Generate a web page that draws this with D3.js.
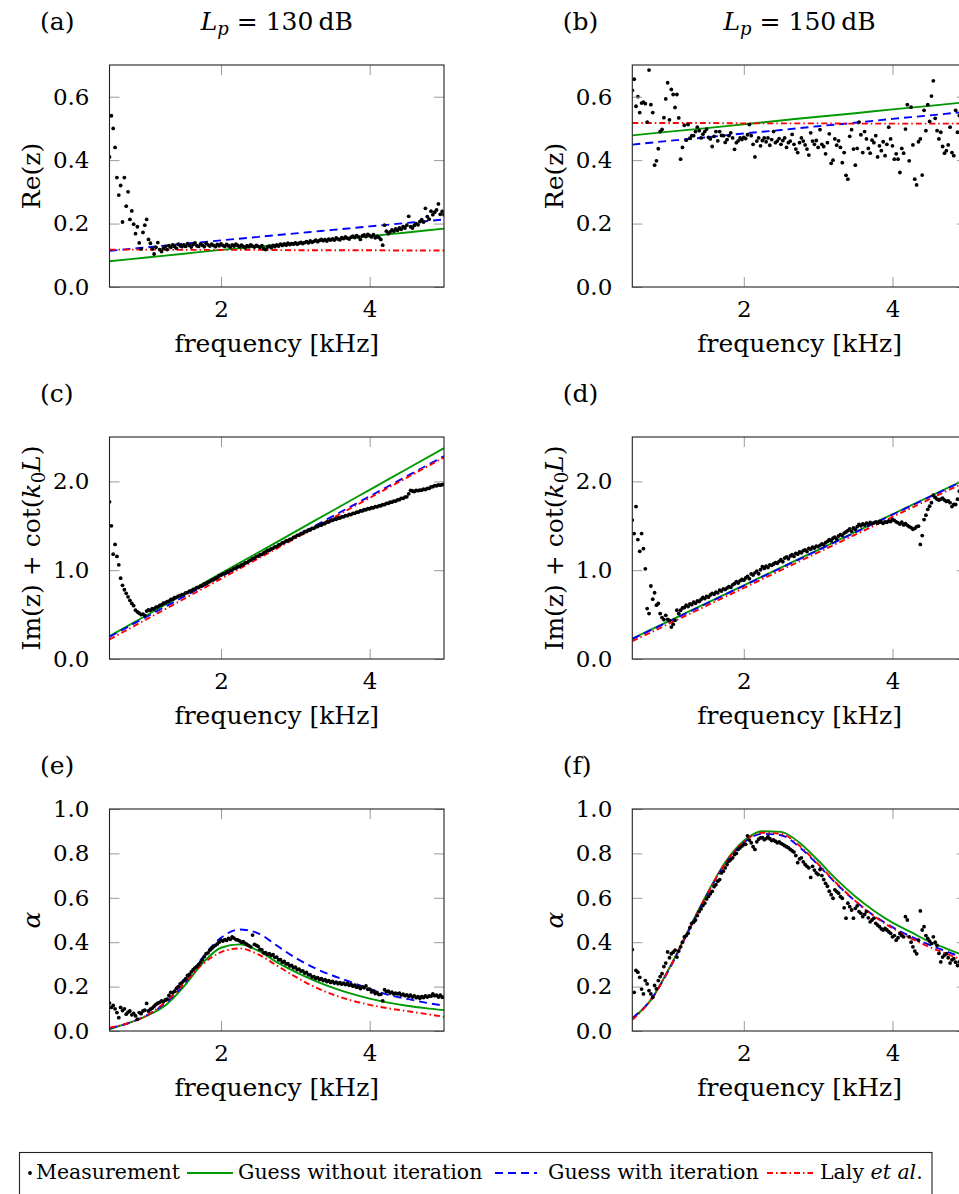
<!DOCTYPE html>
<html>
<head>
<meta charset="utf-8">
<script src="https://cdn.jsdelivr.net/npm/d3@7"></script>
<style>
  body { margin: 0; background: #fff; }
  svg { display: block; font-family: "DejaVu Serif", serif; }
</style>
</head>
<body>
<svg id="chart" width="959" height="1194"></svg>
<script>
// frequency grid of the measurement, kHz (0.5 ... 5.0, step 0.025)
var freqMeas = d3.range(181).map(function(i) { return 0.5 + 0.025 * i; });
// knots of the model curves, kHz
var freqLin = [0.5, 1.0, 1.5, 2.0, 2.5, 3.0, 3.5, 4.0, 4.5, 5.0];
var freqAlpha = [0.5, 0.75, 1.0, 1.25, 1.5, 1.75, 2.0, 2.25, 2.5, 2.75, 3.0, 3.25, 3.5, 3.75, 4.0, 4.25, 4.5, 4.75, 5.0];

// (a) Re(z), Lp = 130 dB
var reMeas130 = [
  0.410,0.540,0.500,0.440,0.345,0.290,0.320,0.205,0.345,0.255,0.300,0.213,0.240,0.198,0.168,0.190,0.139,0.120,0.172,0.195,
  0.213,0.150,0.138,0.120,0.104,0.125,0.140,0.118,0.112,0.122,0.128,0.118,0.130,0.125,0.133,0.128,0.122,0.135,0.130,0.127,
  0.133,0.128,0.137,0.131,0.126,0.134,0.139,0.130,0.128,0.136,0.132,0.127,0.138,0.133,0.129,0.135,0.131,0.127,0.134,0.130,
  0.136,0.131,0.128,0.134,0.130,0.126,0.133,0.129,0.135,0.131,0.127,0.132,0.128,0.124,0.130,0.127,0.133,0.129,0.126,0.131,
  0.128,0.125,0.130,0.121,0.118,0.126,0.129,0.124,0.131,0.127,0.133,0.129,0.135,0.131,0.136,0.132,0.138,0.134,0.137,0.135,
  0.139,0.135,0.138,0.141,0.137,0.140,0.143,0.139,0.145,0.141,0.144,0.148,0.143,0.147,0.150,0.146,0.149,0.145,0.151,0.148,
  0.152,0.148,0.155,0.151,0.149,0.156,0.153,0.158,0.154,0.151,0.157,0.160,0.156,0.162,0.158,0.150,0.161,0.164,0.159,0.166,
  0.162,0.158,0.165,0.155,0.160,0.156,0.150,0.132,0.195,0.176,0.168,0.174,0.180,0.176,0.183,0.179,0.186,0.182,0.190,0.186,
  0.195,0.223,0.190,0.186,0.194,0.200,0.196,0.206,0.212,0.205,0.248,0.222,0.214,0.239,0.228,0.236,0.243,0.262,0.229,0.238,
  0.228];
var reGuess130 = [0.081,0.093,0.105,0.117,0.127,0.138,0.149,0.160,0.172,0.184];
var reIter130  = [0.114,0.125,0.136,0.147,0.158,0.169,0.180,0.191,0.202,0.213];
var reLaly130  = [0.118,0.118,0.117,0.117,0.117,0.116,0.116,0.116,0.115,0.115];

// (b) Re(z), Lp = 150 dB
var reMeas150 = [
  0.620,0.655,0.570,0.600,0.550,0.580,0.583,0.578,0.520,0.684,0.575,0.550,0.384,0.398,0.436,0.490,0.497,0.534,0.593,0.644,
  0.527,0.623,0.607,0.566,0.607,0.533,0.403,0.440,0.510,0.463,0.512,0.469,0.477,0.477,0.490,0.504,0.493,0.470,0.482,0.490,
  0.498,0.472,0.467,0.443,0.475,0.490,0.461,0.490,0.478,0.477,0.456,0.465,0.477,0.486,0.470,0.434,0.455,0.461,0.470,0.465,
  0.472,0.468,0.480,0.512,0.477,0.450,0.410,0.460,0.470,0.445,0.462,0.470,0.458,0.470,0.447,0.465,0.490,0.455,0.460,0.468,
  0.450,0.462,0.470,0.440,0.455,0.460,0.481,0.450,0.435,0.424,0.455,0.470,0.460,0.448,0.435,0.416,0.486,0.460,0.450,0.462,
  0.440,0.496,0.450,0.443,0.420,0.455,0.483,0.390,0.400,0.467,0.447,0.461,0.440,0.392,0.424,0.352,0.340,0.475,0.496,0.435,
  0.384,0.437,0.520,0.480,0.424,0.490,0.467,0.437,0.422,0.463,0.455,0.477,0.410,0.445,0.430,0.458,0.414,0.450,0.504,0.467,
  0.445,0.403,0.420,0.403,0.361,0.437,0.422,0.498,0.575,0.398,0.567,0.448,0.340,0.322,0.458,0.467,0.353,0.557,0.493,0.575,
  0.522,0.602,0.650,0.532,0.493,0.467,0.488,0.443,0.422,0.430,0.448,0.504,0.424,0.414,0.557,0.488,0.540,0.500,0.450,0.520,
  0.470];
var reGuess150 = [0.478,0.490,0.501,0.513,0.525,0.537,0.548,0.560,0.571,0.583];
var reIter150  = [0.449,0.461,0.472,0.484,0.495,0.507,0.518,0.530,0.541,0.553];
var reLaly150  = [0.517,0.517,0.517,0.516,0.516,0.516,0.515,0.515,0.515,0.515];

// (c) Im(z) + cot(k0 L), Lp = 130 dB
var imMeas130 = [
  1.770,1.500,1.180,1.290,1.155,1.060,0.910,0.830,0.780,0.740,0.700,0.660,0.625,0.600,0.550,0.530,0.515,0.500,0.505,0.490,
  0.540,0.552,0.548,0.566,0.563,0.584,0.588,0.603,0.610,0.628,0.633,0.646,0.652,0.670,0.673,0.690,0.694,0.709,0.713,0.725,
  0.728,0.745,0.748,0.765,0.767,0.783,0.787,0.803,0.804,0.821,0.827,0.845,0.849,0.865,0.871,0.889,0.895,0.911,0.917,0.938,
  0.944,0.958,0.961,0.978,0.982,0.999,1.001,1.019,1.023,1.039,1.042,1.061,1.064,1.081,1.086,1.103,1.114,1.131,1.136,1.153,
  1.158,1.175,1.178,1.195,1.206,1.223,1.226,1.241,1.246,1.263,1.266,1.285,1.291,1.308,1.314,1.329,1.332,1.348,1.351,1.368,
  1.376,1.393,1.396,1.413,1.416,1.433,1.436,1.451,1.454,1.471,1.472,1.489,1.492,1.508,1.508,1.523,1.526,1.541,1.544,1.559,
  1.561,1.575,1.574,1.588,1.588,1.601,1.601,1.615,1.614,1.628,1.626,1.641,1.641,1.653,1.654,1.668,1.668,1.681,1.680,1.693,
  1.692,1.703,1.702,1.715,1.714,1.725,1.726,1.738,1.738,1.753,1.752,1.765,1.766,1.778,1.778,1.793,1.794,1.809,1.808,1.823,
  1.826,1.860,1.900,1.892,1.886,1.898,1.896,1.901,1.901,1.913,1.908,1.921,1.921,1.938,1.941,1.953,1.951,1.961,1.958,1.963,
  1.966];
var imGuess130 = [0.258,0.493,0.729,0.964,1.199,1.434,1.670,1.905,2.140,2.375];
var imIter130  = [0.250,0.476,0.702,0.928,1.154,1.380,1.606,1.832,2.058,2.284];
var imLaly130  = [0.220,0.448,0.676,0.903,1.131,1.359,1.587,1.814,2.042,2.270];

// (d) Im(z) + cot(k0 L), Lp = 150 dB
var imMeas150 = [
  1.564,1.413,1.716,1.345,1.212,1.413,1.242,1.015,0.568,0.511,0.822,0.674,0.746,0.606,0.625,0.511,0.466,0.443,0.492,0.447,
  0.436,0.360,0.390,0.436,0.549,0.511,0.549,0.575,0.580,0.606,0.590,0.620,0.612,0.640,0.628,0.655,0.648,0.670,0.693,0.680,
  0.705,0.696,0.722,0.740,0.728,0.752,0.745,0.776,0.765,0.790,0.782,0.800,0.815,0.806,0.835,0.848,0.871,0.855,0.880,0.895,
  0.888,0.912,0.930,0.905,0.958,0.945,0.970,0.990,0.960,1.005,1.040,1.020,1.045,1.030,1.060,1.055,1.070,1.085,1.078,1.100,
  1.118,1.095,1.136,1.150,1.128,1.160,1.175,1.155,1.190,1.180,1.205,1.196,1.220,1.230,1.210,1.245,1.236,1.260,1.250,1.272,
  1.265,1.280,1.295,1.288,1.310,1.325,1.345,1.330,1.360,1.372,1.350,1.385,1.400,1.390,1.418,1.430,1.445,1.466,1.440,1.475,
  1.460,1.490,1.515,1.500,1.520,1.508,1.530,1.515,1.538,1.525,1.534,1.545,1.530,1.550,1.540,1.528,1.545,1.540,1.556,1.548,
  1.570,1.560,1.545,1.534,1.520,1.540,1.510,1.525,1.505,1.490,1.480,1.460,1.470,1.490,1.496,1.290,1.390,1.570,1.620,1.686,
  1.720,1.760,1.845,1.820,1.800,1.790,1.800,1.810,1.790,1.775,1.780,1.760,1.716,1.740,1.740,1.800,1.890,1.860,1.850,1.880,
  1.870];
var imGuess150 = [0.230,0.430,0.630,0.830,1.030,1.230,1.430,1.630,1.830,2.030];
var imIter150  = [0.225,0.425,0.625,0.825,1.025,1.225,1.425,1.625,1.825,2.025];
var imLaly150  = [0.200,0.400,0.600,0.800,1.000,1.200,1.400,1.600,1.800,2.000];

// (e) absorption coefficient, Lp = 130 dB
var alphaMeas130 = [
  0.126,0.106,0.115,0.100,0.083,0.060,0.106,0.092,0.100,0.076,0.085,0.090,0.073,0.079,0.068,0.053,0.083,0.078,0.090,0.094,
  0.124,0.090,0.098,0.103,0.112,0.120,0.125,0.129,0.136,0.132,0.140,0.144,0.160,0.174,0.172,0.179,0.192,0.200,0.212,0.218,
  0.227,0.236,0.250,0.255,0.266,0.276,0.284,0.290,0.300,0.310,0.322,0.335,0.348,0.352,0.364,0.372,0.380,0.386,0.392,0.400,
  0.409,0.405,0.412,0.408,0.417,0.413,0.424,0.418,0.412,0.410,0.406,0.400,0.402,0.395,0.390,0.385,0.379,0.432,0.390,0.386,
  0.381,0.368,0.365,0.352,0.353,0.345,0.348,0.340,0.344,0.332,0.333,0.321,0.321,0.310,0.313,0.302,0.303,0.293,0.295,0.285,
  0.288,0.277,0.279,0.270,0.271,0.261,0.264,0.253,0.253,0.243,0.245,0.237,0.240,0.232,0.236,0.227,0.231,0.223,0.227,0.219,
  0.223,0.216,0.220,0.213,0.218,0.211,0.216,0.209,0.214,0.206,0.210,0.202,0.206,0.197,0.200,0.191,0.199,0.195,0.203,0.188,
  0.189,0.176,0.179,0.169,0.173,0.164,0.165,0.136,0.186,0.177,0.180,0.171,0.175,0.167,0.171,0.167,0.170,0.162,0.166,0.159,
  0.163,0.156,0.161,0.153,0.158,0.150,0.155,0.147,0.155,0.151,0.158,0.153,0.158,0.157,0.167,0.159,0.161,0.153,0.162,0.152,
  0.152];
var alphaGuess130 = [0.008,0.035,0.068,0.115,0.200,0.305,0.375,0.390,0.362,0.310,0.266,0.228,0.195,0.168,0.146,0.128,0.114,0.103,0.094];
var alphaIter130  = [0.012,0.035,0.070,0.125,0.210,0.330,0.420,0.457,0.440,0.385,0.330,0.285,0.250,0.220,0.190,0.163,0.145,0.128,0.114];
var alphaLaly130  = [0.015,0.035,0.070,0.130,0.212,0.300,0.355,0.372,0.345,0.295,0.245,0.200,0.165,0.138,0.118,0.102,0.090,0.077,0.064];

// (f) absorption coefficient, Lp = 150 dB
var alphaMeas150 = [
  0.367,0.174,0.273,0.265,0.242,0.189,0.167,0.227,0.212,0.182,0.167,0.152,0.205,0.190,0.227,0.245,0.258,0.290,0.306,0.356,
  0.330,0.348,0.355,0.364,0.333,0.360,0.379,0.400,0.424,0.430,0.440,0.465,0.485,0.490,0.500,0.520,0.538,0.550,0.565,0.576,
  0.595,0.606,0.618,0.629,0.650,0.659,0.675,0.682,0.712,0.720,0.735,0.750,0.765,0.772,0.780,0.795,0.800,0.818,0.825,0.833,
  0.840,0.841,0.879,0.860,0.848,0.830,0.818,0.852,0.864,0.870,0.871,0.862,0.867,0.875,0.866,0.858,0.861,0.855,0.848,0.852,
  0.845,0.841,0.835,0.830,0.826,0.818,0.812,0.806,0.790,0.758,0.775,0.780,0.762,0.750,0.742,0.735,0.692,0.742,0.725,0.712,
  0.705,0.727,0.700,0.682,0.665,0.652,0.630,0.614,0.598,0.636,0.628,0.621,0.605,0.598,0.555,0.508,0.576,0.560,0.545,0.508,
  0.552,0.564,0.538,0.530,0.515,0.525,0.538,0.510,0.492,0.500,0.508,0.485,0.477,0.470,0.460,0.455,0.462,0.455,0.447,0.440,
  0.424,0.430,0.409,0.420,0.439,0.430,0.424,0.515,0.500,0.424,0.400,0.379,0.360,0.348,0.409,0.541,0.455,0.470,0.430,0.417,
  0.405,0.394,0.424,0.400,0.386,0.350,0.311,0.333,0.342,0.348,0.330,0.306,0.320,0.326,0.310,0.295,0.311,0.300,0.290,0.305,
  0.300];
var alphaGuess150 = [0.056,0.140,0.285,0.452,0.615,0.760,0.857,0.900,0.897,0.848,0.768,0.682,0.606,0.542,0.488,0.445,0.402,0.368,0.335];
var alphaIter150  = [0.058,0.140,0.280,0.445,0.610,0.752,0.848,0.888,0.882,0.828,0.748,0.662,0.585,0.520,0.468,0.425,0.388,0.355,0.325];
var alphaLaly150  = [0.050,0.140,0.283,0.450,0.612,0.756,0.853,0.893,0.888,0.834,0.752,0.665,0.586,0.518,0.463,0.417,0.378,0.345,0.312];

var titles = ["130", "150"];

// layout
var W = 334.5, H = 222;
var colX = [109.5, 632.3];
var rowY = [65, 437, 809];
var green = "#009a00", blue = "#0000ff", red = "#ff0000";
var styles = [
  { color: green, dash: null },
  { color: blue, dash: "8,5" },
  { color: red, dash: "6,3,1.5,3" }
];

var panels = [
  { tag: "(a)", col: 0, row: 0, yMax: 0.7, yTicks: [0, 0.2, 0.4, 0.6], meas: reMeas130, fx: freqLin, lines: [reGuess130, reIter130, reLaly130], label: "re" },
  { tag: "(b)", col: 1, row: 0, yMax: 0.7, yTicks: [0, 0.2, 0.4, 0.6], meas: reMeas150, fx: freqLin, lines: [reGuess150, reIter150, reLaly150], label: "re" },
  { tag: "(c)", col: 0, row: 1, yMax: 2.5, yTicks: [0, 1, 2], meas: imMeas130, fx: freqLin, lines: [imGuess130, imIter130, imLaly130], label: "im" },
  { tag: "(d)", col: 1, row: 1, yMax: 2.5, yTicks: [0, 1, 2], meas: imMeas150, fx: freqLin, lines: [imGuess150, imIter150, imLaly150], label: "im" },
  { tag: "(e)", col: 0, row: 2, yMax: 1.0, yTicks: [0, 0.2, 0.4, 0.6, 0.8, 1.0], meas: alphaMeas130, fx: freqAlpha, lines: [alphaGuess130, alphaIter130, alphaLaly130], label: "alpha" },
  { tag: "(f)", col: 1, row: 2, yMax: 1.0, yTicks: [0, 0.2, 0.4, 0.6, 0.8, 1.0], meas: alphaMeas150, fx: freqAlpha, lines: [alphaGuess150, alphaIter150, alphaLaly150], label: "alpha" }
];

var svg = d3.select("#chart");
svg.append("rect").attr("width", 959).attr("height", 1194).attr("fill", "#fff");

// column titles L_p = ... dB
titles.forEach(function(t, c) {
  var tx = svg.append("text")
    .attr("x", colX[c] + W / 2).attr("y", 30)
    .attr("text-anchor", "middle").attr("font-size", 25);
  tx.append("tspan").attr("font-style", "italic").text("L");
  tx.append("tspan").attr("font-style", "italic").attr("font-size", 18).attr("dy", 5).text("p");
  tx.append("tspan").attr("dy", -5).text(" = " + t + "\u2009dB");
});

panels.forEach(function(p, k) {
  var x0 = colX[p.col], y0 = rowY[p.row];
  var x = d3.scaleLinear().domain([0.5, 5]).range([0, W]);
  var y = d3.scaleLinear().domain([0, p.yMax]).range([H, 0]);

  svg.append("text")
    .attr("x", x0 - 69.5).attr("y", y0 - 35)
    .attr("font-size", 25).text(p.tag);

  var g = svg.append("g").attr("transform", "translate(" + x0 + "," + y0 + ")");

  g.append("clipPath").attr("id", "clip" + k)
    .append("rect").attr("width", W).attr("height", H);

  var plot = g.append("g").attr("clip-path", "url(#clip" + k + ")");

  // model curves
  var line = d3.line()
    .x(function(d) { return x(d[0]); })
    .y(function(d) { return y(d[1]); })
    .curve(d3.curveMonotoneX);

  p.lines.forEach(function(vals, j) {
    plot.append("path")
      .datum(p.fx.map(function(f, i) { return [f, vals[i]]; }))
      .attr("d", line)
      .attr("fill", "none")
      .attr("stroke", styles[j].color)
      .attr("stroke-width", 1.9)
      .attr("stroke-dasharray", styles[j].dash);
  });

  // measurement points
  plot.selectAll("circle")
    .data(p.meas)
    .enter().append("circle")
    .attr("cx", function(d, i) { return x(freqMeas[i]); })
    .attr("cy", function(d) { return y(d); })
    .attr("r", 1.9)
    .attr("fill", "#000");

  // axes: ticks inside on all four sides
  var left = g.append("g").call(d3.axisLeft(y).tickValues(p.yTicks).tickSize(-10).tickPadding(20)
    .tickFormat(d3.format(".1f")));
  var bottom = g.append("g").attr("transform", "translate(0," + H + ")")
    .call(d3.axisBottom(x).tickValues([2, 4]).tickSize(-10).tickPadding(14).tickFormat(d3.format("d")));
  var top = g.append("g").call(d3.axisTop(x).tickValues([2, 4]).tickSize(-10).tickFormat(""));
  var right = g.append("g").attr("transform", "translate(" + W + ",0)")
    .call(d3.axisRight(y).tickValues(p.yTicks).tickSize(-10).tickFormat(""));

  [left, bottom, top, right].forEach(function(a) {
    a.attr("font-family", null).attr("font-size", null);
    a.select(".domain").remove();
    a.selectAll(".tick line").attr("stroke", "#9a9a9a").attr("stroke-width", 1);
    a.selectAll(".tick text").attr("font-size", 23).attr("fill", "#000");
  });

  g.append("rect").attr("width", W).attr("height", H)
    .attr("fill", "none").attr("stroke", "#222").attr("stroke-width", 1.1);

  // x label
  g.append("text")
    .attr("x", W / 2).attr("y", H + 65)
    .attr("text-anchor", "middle").attr("font-size", 25)
    .text("frequency [kHz]");

  // y label
  var yl = g.append("text")
    .attr("transform", "translate(" + (40 - x0 + (p.col ? 523 : 0)) + "," + H / 2 + ") rotate(-90)")
    .attr("text-anchor", "middle").attr("font-size", 25);
  if (p.label === "re") {
    yl.text("Re(z)");
  } else if (p.label === "im") {
    yl.append("tspan").text("Im(z) + cot(");
    yl.append("tspan").attr("font-style", "italic").text("k");
    yl.append("tspan").attr("font-size", 18).attr("dy", 5).text("0");
    yl.append("tspan").attr("font-style", "italic").attr("dy", -5).text("L");
    yl.append("tspan").text(")");
  } else {
    yl.append("tspan").attr("font-style", "italic").text("\u03b1");
  }
});

// legend
var leg = svg.append("g");
leg.append("rect")
  .attr("x", 19.5).attr("y", 1152.5).attr("width", 912.5).attr("height", 60)
  .attr("fill", "#fff").attr("stroke", "#222").attr("stroke-width", 1.1);
leg.append("circle").attr("cx", 30).attr("cy", 1173).attr("r", 1.9).attr("fill", "#000");

var legItems = [
  { x1: 187, x2: 233, tx: 238, text: "Guess without iteration", style: styles[0] },
  { x1: 495, x2: 537, tx: 548, text: "Guess with iteration", style: styles[1] },
  { x1: 767, x2: 813, tx: 820, text: null, style: styles[2] }
];
leg.append("text").attr("x", 36).attr("y", 1179).attr("font-size", 20.5).text("Measurement");
legItems.forEach(function(d) {
  leg.append("line")
    .attr("x1", d.x1).attr("x2", d.x2).attr("y1", 1173).attr("y2", 1173)
    .attr("stroke", d.style.color).attr("stroke-width", 1.9)
    .attr("stroke-dasharray", d.style.dash);
  var t = leg.append("text").attr("x", d.tx).attr("y", 1179).attr("font-size", 20.5);
  if (d.text) {
    t.text(d.text);
  } else {
    t.append("tspan").text("Laly ");
    t.append("tspan").attr("font-style", "italic").text("et al");
    t.append("tspan").text(".");
  }
});
</script>
</body>
</html>
